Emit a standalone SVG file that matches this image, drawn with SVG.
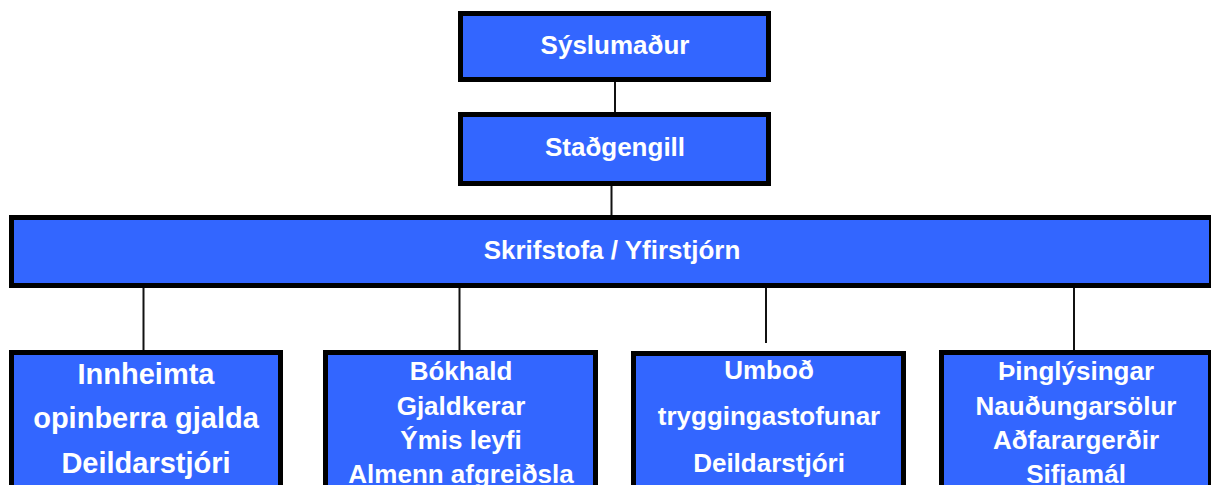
<svg xmlns="http://www.w3.org/2000/svg" width="1211" height="485" viewBox="0 0 1211 485">
<style>
.box{fill:#3366FF;stroke:#000;stroke-width:5}
.t{fill:#fff;font-family:"Liberation Sans",Arial,sans-serif;font-weight:bold;font-size:26px;text-anchor:middle}
.big{font-size:29px}
.c{stroke:#111;stroke-width:2;fill:none}
</style>
<rect width="1211" height="485" fill="#fff"/>
<g id="connectors">
<line class="c" x1="615" y1="82" x2="615" y2="112"/>
<line class="c" x1="611.5" y1="186" x2="611.5" y2="215"/>
<line class="c" x1="143.5" y1="288" x2="143.5" y2="350"/>
<line class="c" x1="459.5" y1="288" x2="459.5" y2="350"/>
<line class="c" x1="766" y1="288" x2="766" y2="343"/>
<line class="c" x1="1074" y1="288" x2="1074" y2="350"/>
</g>
<g id="syslumadur">
<rect class="box" x="460.5" y="13.5" width="308" height="66"/>
<text class="t" x="615" y="54">Sýslumaður</text>
</g>
<g id="stadgengill">
<rect class="box" x="460.5" y="114.5" width="308" height="69"/>
<text class="t" x="615" y="156">Staðgengill</text>
</g>
<g id="skrifstofa">
<rect class="box" x="11.5" y="217.5" width="1200" height="68"/>
<text class="t" x="612" y="259">Skrifstofa / Yfirstjórn</text>
</g>
<g id="innheimta">
<rect class="box" x="11.5" y="352.5" width="269" height="200"/>
<text class="t big" x="146" y="384">Innheimta</text>
<text class="t big" x="146" y="428">opinberra gjalda</text>
<text class="t big" x="146" y="473">Deildarstjóri</text>
</g>
<g id="bokhald">
<rect class="box" x="325.5" y="352.5" width="270" height="200"/>
<text class="t" x="461" y="380">Bókhald</text>
<text class="t" x="461" y="415">Gjaldkerar</text>
<text class="t" x="461" y="449">Ýmis leyfi</text>
<text class="t" x="461" y="483">Almenn afgreiðsla</text>
</g>
<g id="umbod">
<rect class="box" x="633.5" y="353.5" width="270" height="200"/>
<text class="t" x="769" y="379">Umboð</text>
<text class="t" x="769" y="425">tryggingastofunar</text>
<text class="t" x="769" y="472">Deildarstjóri</text>
</g>
<g id="thinglysingar">
<rect class="box" x="941.5" y="352.5" width="269" height="200"/>
<text class="t" x="1076" y="380">Þinglýsingar</text>
<text class="t" x="1076" y="415">Nauðungarsölur</text>
<text class="t" x="1076" y="449">Aðfarargerðir</text>
<text class="t" x="1076" y="483">Sifjamál</text>
</g>
</svg>
